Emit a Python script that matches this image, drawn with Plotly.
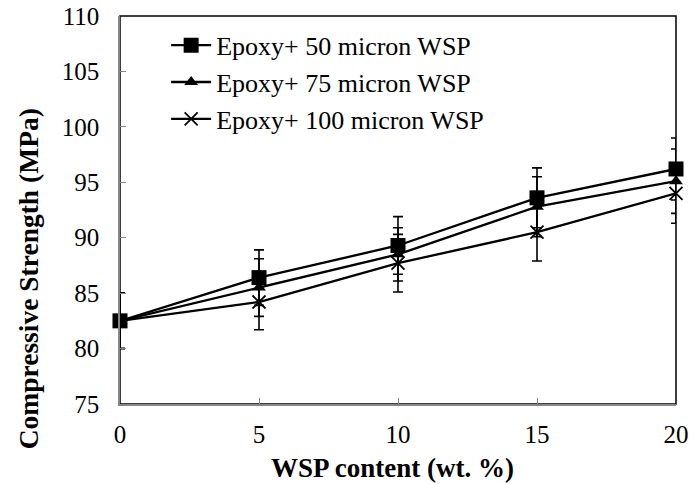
import plotly.graph_objects as go

wsp_content = [0, 5, 10, 15, 20]
series_names = ["Epoxy+ 50 micron WSP", "Epoxy+ 75 micron WSP", "Epoxy+ 100 micron WSP"]
strength_50 = [82.5, 86.4, 89.3, 93.6, 96.2]
error_50 = [2.5, 2.5, 2.6, 2.7, 2.8]
strength_75 = [82.5, 85.5, 88.5, 92.8, 95.1]
error_75 = [2.5, 2.6, 2.4, 2.7, 2.9]
strength_100 = [82.5, 84.2, 87.7, 90.5, 94.0]
error_100 = [2.5, 2.5, 2.6, 2.6, 2.7]
x_ticks = [0, 5, 10, 15, 20]
y_ticks = [75, 80, 85, 90, 95, 100, 105, 110]

FONT = "Times New Roman, Liberation Serif, Tinos, DejaVu Serif, serif"

symbols = ["square", "triangle-up", "x-thin-open"]
sizes = [15, 12, 13]
ys = [strength_50, strength_75, strength_100]
errs = [error_50, error_75, error_100]

fig = go.Figure()
for name, y, e, sym, sz in zip(series_names, ys, errs, symbols, sizes):
    marker = dict(symbol=sym, size=sz, color="black")
    if sym == "x-thin-open":
        marker["line"] = dict(color="black", width=1.8)
    fig.add_trace(go.Scatter(
        x=wsp_content, y=y, name=name, mode="lines+markers",
        line=dict(color="black", width=2.3),
        marker=marker,
        error_y=dict(type="data", array=e, visible=True, color="black", thickness=1.6, width=5),
        cliponaxis=False,
    ))

fig.add_shape(type="rect", xref="paper", yref="paper", x0=0, y0=0, x1=1, y1=1,
              line=dict(color="black", width=1.5), layer="below")

fig.update_layout(
    template="none",
    width=689, height=484,
    margin=dict(l=120, r=13, t=16, b=80, autoexpand=False),
    plot_bgcolor="white", paper_bgcolor="white",
    font=dict(family=FONT, size=25, color="black"),
    showlegend=True,
    legend=dict(x=0.083, y=0.985, xanchor="left", yanchor="top",
                bgcolor="rgba(0,0,0,0)", font=dict(family=FONT, size=26),
                itemwidth=40, tracegroupgap=0),
    xaxis=dict(range=[0, 20], tickvals=x_ticks, showgrid=False, zeroline=False,
               automargin=False,
               showline=True, linecolor="#868686", linewidth=1.5,
               ticks="inside", ticklen=6, tickcolor="#868686", tickwidth=1,
               ticklabelstandoff=7, tickfont=dict(family=FONT, size=25)),
    yaxis=dict(range=[75, 110], tickvals=y_ticks, showgrid=False, zeroline=False,
               automargin=False,
               showline=True, linecolor="#868686", linewidth=1.5,
               ticks="inside", ticklen=6, tickcolor="#868686", tickwidth=1,
               ticklabelstandoff=14, tickfont=dict(family=FONT, size=25)),
    annotations=[
        dict(text="<b>WSP content (wt. %)</b>", xref="paper", yref="paper",
             x=0.49, y=-0.165, xanchor="center", yanchor="middle", showarrow=False,
             font=dict(family=FONT, size=27)),
        dict(text="<b>Compressive Strength (MPa)</b>", xref="paper", yref="paper",
             x=-0.165, y=0.322, xanchor="center", yanchor="middle", showarrow=False,
             textangle=-90, font=dict(family=FONT, size=27.5)),
    ],
)

fig.write_html("out.html")
